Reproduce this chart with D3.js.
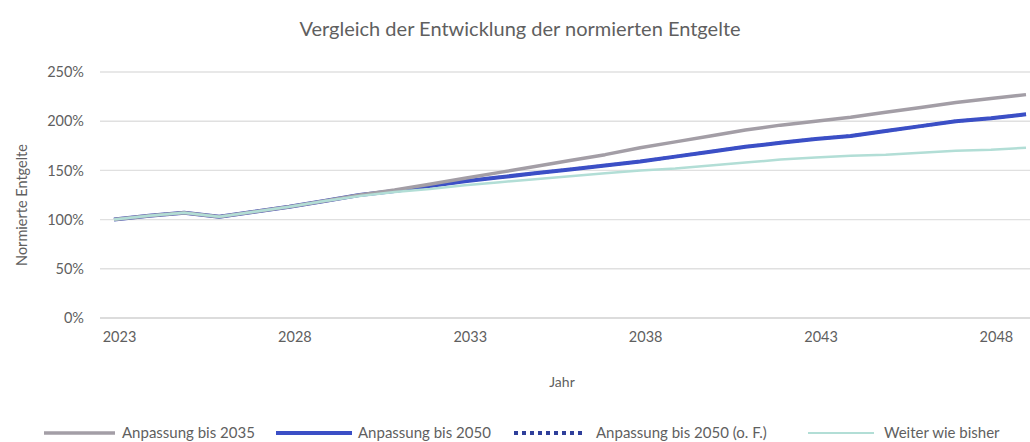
<!DOCTYPE html>
<html>
<head>
<meta charset="utf-8">
<script src="https://cdn.jsdelivr.net/npm/d3@7"></script>
<style>
  html, body { margin: 0; padding: 0; background: #fff; }
  svg text { font-family: Lato, "Open Sans", sans-serif; fill: #5f5f5f; }
</style>
</head>
<body>
<svg id="chart" width="1030" height="442"></svg>
<script>
// Years on the category axis
const years = [2023, 2024, 2025, 2026, 2027, 2028, 2029, 2030, 2031, 2032, 2033, 2034, 2035, 2036,
               2037, 2038, 2039, 2040, 2041, 2042, 2043, 2044, 2045, 2046, 2047, 2048, 2049];

// Normalised fees (percent of 2023)
const anpassung2035 = [100, 104, 107, 103, 108, 113, 119, 125, 130, 136, 142, 148, 154, 160,
                       166, 173, 179, 185, 191, 196, 200, 204, 209, 214, 219, 223, 227];
const anpassung2050 = [100, 104, 107, 103, 108, 113, 119, 125, 129, 134, 139, 143, 147, 151,
                       155, 159, 164, 169, 174, 178, 182, 185, 190, 195, 200, 203, 207];
const anpassung2050oF = [100, 104, 107, 103, 108, 113, 119, 125, 129, 134, 139, 143, 147, 151,
                         155, 159, 164, 169, 174, 178, 182, 185, 190, 195, 200, 203, 207];
const weiterWieBisher = [100, 104, 107, 103, 108, 113, 119, 124, 128, 131, 135, 138, 141, 144,
                         147, 150, 152, 155, 158, 161, 163, 165, 166, 168, 170, 171, 173];

const seriesNames = ["Anpassung bis 2035", "Anpassung bis 2050", "Anpassung bis 2050 (o. F.)", "Weiter wie bisher"];
const yTicks = [0, 50, 100, 150, 200, 250];
const xTicks = [2023, 2028, 2033, 2038, 2043, 2048];

const chartTitle = "Vergleich der Entwicklung der normierten Entgelte";
const xTitle = "Jahr";
const yTitle = "Normierte Entgelte";

const svg = d3.select("#chart");

const plot = { left: 100, right: 1030, top: 72, bottom: 318 };

const x = d3.scaleLinear().domain([2023, 2049]).range([114, 1026]);
const y = d3.scaleLinear().domain([0, 250]).range([plot.bottom, plot.top]);

// Title
svg.append("text")
  .attr("x", 520).attr("y", 36)
  .attr("text-anchor", "middle")
  .style("font-size", "20px")
  .text(chartTitle);

// Horizontal gridlines
svg.append("g")
  .selectAll("line")
  .data(yTicks)
  .join("line")
  .attr("x1", plot.left).attr("x2", plot.right)
  .attr("y1", d => y(d)).attr("y2", d => y(d))
  .attr("stroke", d => d === 0 ? "#d0d0d0" : "#e0e0e0")
  .attr("stroke-width", 1.4);

// Y axis labels
const yAxis = d3.axisLeft(y).tickValues(yTicks).tickFormat(d => d + "%").tickSize(0).tickPadding(0);
svg.append("g")
  .attr("transform", `translate(${plot.left - 16},0)`)
  .call(yAxis)
  .call(g => g.select(".domain").remove())
  .call(g => g.selectAll("text").style("font-size", "14.5px").attr("fill", "#5f5f5f"));

// X axis labels
const xAxis = d3.axisBottom(x).tickValues(xTicks).tickFormat(d3.format("d")).tickSize(0).tickPadding(0);
svg.append("g")
  .attr("transform", `translate(5,${plot.bottom + 14})`)
  .call(xAxis)
  .call(g => g.select(".domain").remove())
  .call(g => g.selectAll("text").style("font-size", "14.5px").attr("fill", "#5f5f5f"));

// Axis titles
svg.append("text")
  .attr("x", 562).attr("y", 387)
  .attr("text-anchor", "middle")
  .style("font-size", "14px")
  .text(xTitle);

svg.append("text")
  .attr("transform", "translate(27,205) rotate(-90)")
  .attr("text-anchor", "middle")
  .style("font-size", "14.5px")
  .text(yTitle);

// Lines (teal drawn last so it sits on top where the series coincide)
const line = d3.line()
  .x((d, i) => x(years[i]))
  .y(d => y(d));

const series = [
  { name: seriesNames[2], values: anpassung2050oF, color: "#2f3f9a", width: 3, dash: "2,2.5" },
  { name: seriesNames[1], values: anpassung2050, color: "#3b4fc6", width: 4, dash: null },
  { name: seriesNames[0], values: anpassung2035, color: "#a39ea6", width: 3.5, dash: null },
  { name: seriesNames[3], values: weiterWieBisher, color: "#b2ded6", width: 2.5, dash: null }
];

svg.append("g")
  .selectAll("path")
  .data(series)
  .join("path")
  .attr("d", d => line(d.values))
  .attr("fill", "none")
  .attr("stroke", d => d.color)
  .attr("stroke-width", d => d.width)
  .attr("stroke-dasharray", d => d.dash)
  .attr("stroke-linejoin", "round");

// Legend
const legendItems = [
  { name: seriesNames[0], color: "#a39ea6", width: 3.5, dash: null, x1: 44, x2: 115, tx: 122 },
  { name: seriesNames[1], color: "#3b4fc6", width: 4, dash: null, x1: 276, x2: 352, tx: 358 },
  { name: seriesNames[2], color: "#2f3f9a", width: 4, dash: "4,4", x1: 514, x2: 584, tx: 596 },
  { name: seriesNames[3], color: "#b2ded6", width: 2, dash: null, x1: 808, x2: 874, tx: 884 }
];
const lg = svg.append("g").selectAll("g").data(legendItems).join("g");
lg.append("line")
  .attr("x1", d => d.x1).attr("x2", d => d.x2)
  .attr("y1", 433).attr("y2", 433)
  .attr("stroke", d => d.color)
  .attr("stroke-width", d => d.width)
  .attr("stroke-dasharray", d => d.dash);
lg.append("text")
  .attr("x", d => d.tx).attr("y", 438)
  .style("font-size", "15px")
  .text(d => d.name);
</script>
</body>
</html>
